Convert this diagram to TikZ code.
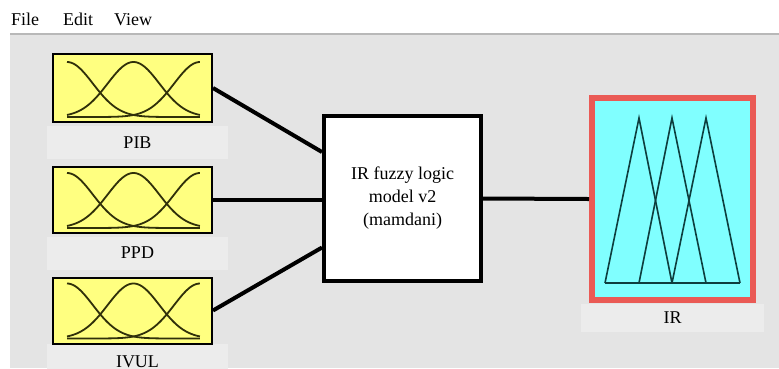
\documentclass[tikz,border=0pt]{standalone}
\usepackage{fontspec}
\setmainfont{Liberation Serif}
\usetikzlibrary{calc}
\definecolor{bg}{HTML}{E4E4E4}
\definecolor{band}{HTML}{ECECEC}
\definecolor{sep}{HTML}{B8B8B8}
\definecolor{mfyellow}{HTML}{FFFF80}
\definecolor{mfline}{HTML}{30300A}
\definecolor{outcyan}{HTML}{80FFFF}
\definecolor{outred}{HTML}{EA5A55}
\definecolor{triline}{HTML}{0E3E3E}
\tikzset{
  txt/.style={font=\fontsize{18}{23}\selectfont},
  inbox/.style={draw=black, line width=2pt, fill=mfyellow, minimum width=159pt, minimum height=66pt, inner sep=0pt},
  labelband/.style={txt, fill=band, minimum width=181pt, minimum height=33pt, inner sep=0pt},
  fisbox/.style={txt, draw=black, line width=4pt, fill=white, minimum width=157pt, minimum height=165pt, align=center, inner sep=0pt},
  outbox/.style={draw=outred, line width=6pt, fill=outcyan, minimum width=161pt, minimum height=202pt, inner sep=0pt},
  conn/.style={draw=black, line width=4pt},
  mfcurve/.style={draw=mfline, line width=1.8pt},
  tri/.style={draw=triline, line width=1.6pt, line join=miter},
}
\begin{document}
\begin{tikzpicture}[x=1pt,y=-1pt]
\useasboundingbox (0,0) rectangle (779,368);
\fill[white] (0,0) rectangle (779,368);
\fill[bg] (10,35) rectangle (779,368);
\draw[sep, line width=2pt] (10,34) -- (779,34);
% menu
\node[txt, anchor=base west, inner sep=0pt] (mfile) at (11,25) {File};
\node[txt, anchor=base west, inner sep=0pt] (medit) at (63,25) {Edit};
\node[txt, anchor=base west, inner sep=0pt] (mview) at (114,25) {View};
% label bands
\node[labelband] (pibl) at (137.5,142.5) {PIB};
\node[labelband] (ppdl) at (137.5,253) {PPD};
\node[labelband, minimum height=36pt] (ivull) at (137.5,362) {IVUL};
\node[labelband, minimum width=183pt, minimum height=28pt] (irl) at (672.5,318) {IR};
% input boxes
\node[inbox, minimum height=68pt] (pib) at (132.5,88) {};
\node[inbox] (ppd) at (132.5,200) {};
\node[inbox] (ivul) at (132.5,310.5) {};
% central box
\node[fisbox] (fis) at (402.5,198.5) {IR fuzzy logic\\model v2\\(mamdani)};
% output box
\node[outbox] (ir) at (672.5,199) {};
% connectors
\draw[conn] (pib.east) -- ($(fis.north west)!0.225!(fis.south west)$);
\draw[conn] (ppd.east) -- (ppd.east -| fis.west);
\draw[conn] (ivul.east) -- ($(fis.north west)!0.79!(fis.south west)$);
\draw[conn] (fis.east) -- (ir.west);
% membership functions (gaussian)
\foreach \b in {pib,ppd,ivul}{
  \begin{scope}[shift={($(\b.south west)+(15,-6)$)}]
    \foreach \c in {0,0.5,1}{
      \draw[mfcurve] plot[domain=0:1, samples=70, smooth] ({\x*133},{-55*exp(-((\x-\c)^2)/(2*0.195*0.195))});
    }
  \end{scope}
}
% output triangles
\begin{scope}[shift={(ir.center)}]
  \draw[tri] (-67.5,84) -- (67.5,84);
  \draw[tri] (-67.5,84) -- (-33.5,-81) -- (-0.5,84);
  \draw[tri] (-33.5,84) -- (-0.5,-81) -- (33.5,84);
  \draw[tri] (-0.5,84) -- (33.5,-81) -- (67.5,84);
\end{scope}
\end{tikzpicture}
\end{document}
